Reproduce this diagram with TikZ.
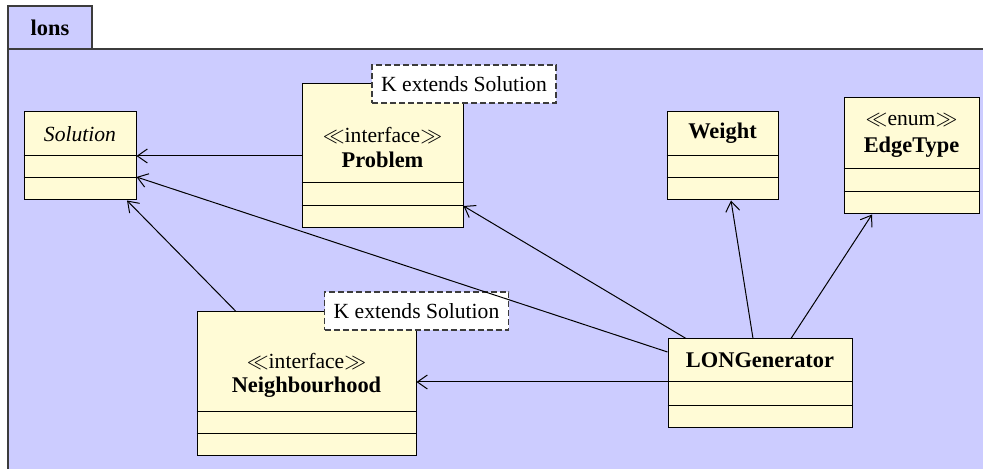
\documentclass[tikz,border=0pt]{standalone}
\usepackage{fontspec}
\setmainfont{Liberation Serif}
\usetikzlibrary{arrows.meta, fit, positioning}
\definecolor{pkgblue}{RGB}{204, 204, 255}
\definecolor{clsyellow}{RGB}{255, 251, 214}
\definecolor{edgegray}{RGB}{60, 60, 60}
\newcommand{\umlsize}{\fontsize{10.8}{12.5}\selectfont}

\tikzset{
  cls/.style={draw, fill=clsyellow, inner sep=0pt, line width=0.5pt},
  tmpl/.style={draw=edgegray, dash pattern=on 3pt off 1.5pt, fill=white, line width=0.6pt,
    inner sep=0pt, minimum width=92pt, minimum height=19pt, font=\umlsize},
  dep/.style={-{Straight Barb[length=5pt, width=7pt]}, line width=0.5pt},
  stereo/.style={inner sep=0pt, font=\umlsize},
  cname/.style={inner sep=0pt, font=\fontsize{11.2}{13}\selectfont\bfseries}
}

\begin{document}
\begin{tikzpicture}[x=0.5pt, y=-0.5pt]
        \useasboundingbox (0,0) rectangle (983,469);

        % Package
        \draw[fill=pkgblue, draw=edgegray, line width=0.6pt] (8,49) rectangle (995,480);
        \node[draw=edgegray, fill=pkgblue, line width=0.6pt, minimum width=42pt, minimum height=21.5pt,
          inner sep=0pt, font=\fontsize{11.2}{13}\selectfont\bfseries] (pkg) at (50,27.5) {lons};

        % Classes
        \node[cls, fit={(24,112) (136,200)}] (sol) {};
        \node[cls, fit={(302,84) (463,228)}] (prob) {};
        \node[cls, fit={(667,112) (778,200)}] (wt) {};
        \node[cls, fit={(844,98) (979,214)}] (etype) {};
        \node[cls, fit={(197,312) (416,455)}] (nbh) {};
        \node[cls, fit={(668,339) (852,427)}] (lon) {};

        % Compartments
        \foreach \n/\a/\b in {sol/156/178, prob/183/206, wt/156/178, etype/169/192, nbh/411/433, lon/382/405}
            \draw[line width=0.5pt] (\n.west |- 0,\a) -- (\n.east |- 0,\a) (\n.west |- 0,\b) -- (\n.east |- 0,\b);

        % Names
        \node[stereo, font=\umlsize\itshape] (solname) at (80,134) {Solution};
        \node[stereo] (probst) at (382.5,135) {$\ll$interface$\gg$};
        \node[cname] (probname) at (382.5,160) {Problem};
        \node[cname] (wtname) at (722.5,133) {Weight};
        \node[stereo] (etypest) at (911.5,120) {$\ll$enum$\gg$};
        \node[cname] (etypename) at (911.5,147) {EdgeType};
        \node[stereo] (nbhst) at (306.5,361) {$\ll$interface$\gg$};
        \node[cname] (nbhname) at (306.5,387) {Neighbourhood};
        \node[cname] (lonname) at (760,360) {LONGenerator};

        % Template parameters
        \node[tmpl] (probk) at (464,84) {K extends Solution};
        \node[tmpl] (nbhk) at (416.5,311) {K extends Solution};

        % Dependencies
        \draw[dep] (prob.west) -- (prob.west -| sol.east);
        \draw[dep] (lon.west |- 0,352) -- (sol.east |- 0,177);
        \draw[dep] (236,0 |- nbh.north) -- (127,0 |- sol.south);
        \draw[dep] (686,0 |- lon.north) -- (prob.east |- 0,206);
        \draw[dep] (lon.west |- 0,382) -- (nbh.east |- 0,382);
        \draw[dep] (753,0 |- lon.north) -- (731,0 |- wt.south);
        \draw[dep] (791,0 |- lon.north) -- (872,0 |- etype.south);
    \end{tikzpicture}
\end{document}
